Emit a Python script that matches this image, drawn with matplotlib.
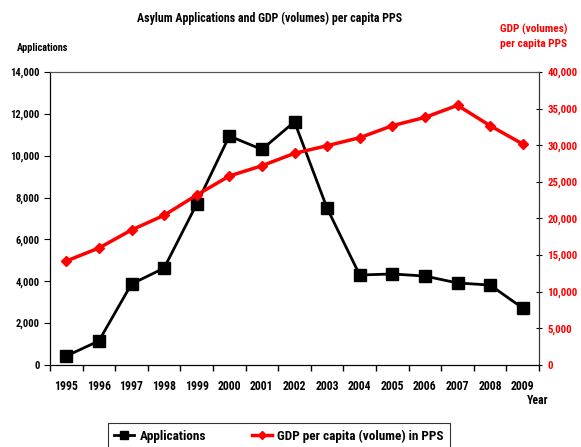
import matplotlib
matplotlib.use("Agg")
import matplotlib.pyplot as plt
from matplotlib import font_manager
from matplotlib.ticker import FuncFormatter, FixedLocator
import numpy as np

years = list(range(1995, 2010))
applications = [430, 1150, 3870, 4630, 7690, 10940, 10300, 11620, 7490,
                4300, 4350, 4250, 3920, 3820, 2720]
gdp_pps = [14200, 15970, 18430, 20440, 23200, 25800, 27200, 28900, 29940,
           31030, 32670, 33800, 35450, 32670, 30170]

# narrow face if there is one, else plain Liberation Sans
installed = {f.name for f in font_manager.fontManager.ttflist}
narrow = [n for n in ['Liberation Sans Narrow', 'DejaVu Sans Condensed',
                      'Roboto Condensed', 'Open Sans Condensed'] if n in installed]
plt.rcParams['font.family'] = narrow[:1] + ['Liberation Sans', 'DejaVu Sans']
plt.rcParams['font.weight'] = 'bold'
sz = 1.0 if narrow else 0.82

fig = plt.figure(figsize=(5.81, 4.47), dpi=100)
ax = fig.add_axes([50 / 581, 1 - 365 / 447, 489 / 581, 293 / 447])
ax2 = ax.twinx()

x = np.arange(len(years))
ax.plot(x, applications, color='black', lw=2, marker='s', ms=8,
        label='Applications', zorder=3)
ax2.plot(x, gdp_pps, color='red', lw=2.5, marker='D', ms=5.5,
         label='GDP per capita (volume) in PPS', zorder=2)

ax.set_xlim(-0.5, len(years) - 0.5)
ax.set_ylim(0, 14000)
ax2.set_ylim(0, 40000)
ax.set_yticks(range(0, 14001, 2000))
ax2.set_yticks(range(0, 40001, 5000))
fmt = FuncFormatter(lambda v, p: f"{int(v):,}")
ax.yaxis.set_major_formatter(fmt)
ax2.yaxis.set_major_formatter(fmt)

ax.set_xticks(x)
ax.set_xticklabels([str(y) for y in years])
ax.xaxis.set_minor_locator(FixedLocator(np.arange(-0.5, len(years), 1)))
ax.tick_params(axis='x', which='major', length=0, pad=11, labelsize=8.5 * sz)
ax.tick_params(axis='x', which='minor', length=4, direction='out', width=1)
ax.tick_params(axis='y', length=4, direction='out', labelsize=7.6 * sz)
ax2.tick_params(axis='y', length=5, direction='inout', labelsize=7.8 * sz,
                labelcolor='red', color='black')

for a in (ax, ax2):
    a.spines['left'].set_color('black')
    a.spines['bottom'].set_color('black')
    a.spines['right'].set_color('#333333')
    a.spines['top'].set_color('#555555')
    a.spines['top'].set_linewidth(0.8)

fig.text(270 / 581, 1 - 18 / 447, 'Asylum Applications and GDP (volumes) per capita PPS',
         ha='center', va='center', fontsize=8.6 * sz, fontweight='bold')
fig.text(17 / 581, 1 - 48 / 447, 'Applications', ha='left', va='center',
         fontsize=7.4 * sz, fontweight='bold')
fig.text(534 / 581, 1 - 36 / 447, 'GDP (volumes)\nper capita PPS', ha='center',
         va='center', fontsize=8.2 * sz, fontweight='bold', color='red',
         linespacing=1.5)
fig.text(548 / 581, 1 - 401 / 447, 'Year', ha='right', va='center',
         fontsize=8.5 * sz, fontweight='bold')

h1, l1 = ax.get_legend_handles_labels()
h2, l2 = ax2.get_legend_handles_labels()
leg = fig.legend(h1 + h2, l1 + l2, loc='upper center', ncol=2,
                 bbox_to_anchor=(279 / 581, 1 - 423 / 447), frameon=True,
                 fancybox=False, edgecolor='black',
                 handlelength=1.5, handletextpad=0.4, columnspacing=3.5,
                 borderpad=0.5, borderaxespad=0,
                 markerscale=0.75, prop={'weight': 'bold', 'size': 9.5 * sz})
leg.get_frame().set_linewidth(0.8)

fig.savefig('out.png', dpi=100)
